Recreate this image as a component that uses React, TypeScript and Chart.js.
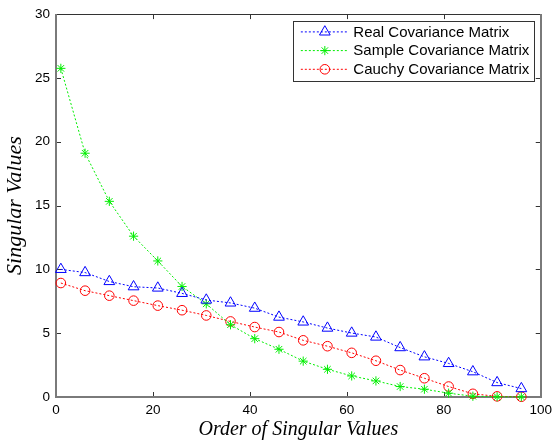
import React, { useEffect, useRef } from "react";
import { Chart, registerables } from "chart.js";

Chart.register(...registerables);

const xValues = [1, 6, 11, 16, 21, 26, 31, 36, 41, 46, 51, 56, 61, 66, 71, 76, 81, 86, 91, 96];
const realValues = [10.0, 9.75, 9.05, 8.64, 8.54, 8.12, 7.6, 7.37, 6.96, 6.26, 5.88, 5.4, 5.01, 4.7, 3.87, 3.15, 2.63, 1.98, 1.13, 0.66];
const sampleValues = [25.75, 19.1, 15.33, 12.6, 10.66, 8.66, 7.3, 5.66, 4.57, 3.74, 2.81, 2.17, 1.65, 1.26, 0.82, 0.61, 0.3, 0.06, 0.02, 0.01];
const cauchyValues = [8.93, 8.33, 7.94, 7.55, 7.16, 6.8, 6.39, 5.92, 5.48, 5.09, 4.44, 3.98, 3.46, 2.84, 2.11, 1.47, 0.82, 0.25, 0.05, 0.02];

const seriesLabels = ["Real Covariance Matrix", "Sample Covariance Matrix", "Cauchy Covariance Matrix"];
const seriesColors = ["#0000FF", "#00EE00", "#FF0000"];
const seriesStyles = ["triangle", "star", "circle"];
const seriesRadius = [6.2, 4.6, 4.8];

const xTitle = "Order of Singular Values";
const yTitle = "Singular Values";

const sansFont = "'Liberation Sans', Arial, sans-serif";
const serifFont = "'Liberation Serif', 'Times New Roman', serif";

function drawMarker(ctx: CanvasRenderingContext2D, style: string, x: number, y: number, r: number, color: string) {
  ctx.save();
  ctx.strokeStyle = color;
  ctx.lineWidth = 1;
  ctx.setLineDash([]);
  ctx.beginPath();
  if (style === "triangle") {
    for (let i = 0; i < 3; i++) {
      const a = (i * 2 * Math.PI) / 3;
      const px = x + Math.sin(a) * r;
      const py = y - Math.cos(a) * r;
      if (i === 0) ctx.moveTo(px, py);
      else ctx.lineTo(px, py);
    }
    ctx.closePath();
  } else if (style === "circle") {
    ctx.arc(x, y, r, 0, Math.PI * 2);
  } else {
    ctx.moveTo(x - r, y);
    ctx.lineTo(x + r, y);
    ctx.moveTo(x, y - r);
    ctx.lineTo(x, y + r);
    const d = r * Math.SQRT1_2;
    ctx.moveTo(x - d, y - d);
    ctx.lineTo(x + d, y + d);
    ctx.moveTo(x - d, y + d);
    ctx.lineTo(x + d, y - d);
  }
  ctx.stroke();
  ctx.restore();
}

const framePlugin = {
  id: "matlabFrame",
  beforeDatasetsDraw(chart: any) {
    const { ctx, chartArea } = chart;
    const { left, right, top, bottom } = chartArea;
    const xs = chart.scales.x;
    const ys = chart.scales.y;
    ctx.save();
    ctx.setLineDash([]);
    ctx.strokeStyle = "#333";
    ctx.lineWidth = 1;
    const tl = 5;
    xs.ticks.forEach((t: any) => {
      const px = Math.round(xs.getPixelForValue(t.value)) + 0.5;
      ctx.beginPath();
      ctx.moveTo(px, bottom);
      ctx.lineTo(px, bottom - tl);
      ctx.moveTo(px, top);
      ctx.lineTo(px, top + tl);
      ctx.stroke();
    });
    ys.ticks.forEach((t: any) => {
      const py = Math.round(ys.getPixelForValue(t.value)) + 0.5;
      ctx.beginPath();
      ctx.moveTo(left, py);
      ctx.lineTo(left + tl, py);
      ctx.moveTo(right, py);
      ctx.lineTo(right - tl, py);
      ctx.stroke();
    });
    ctx.strokeStyle = "#333";
    ctx.lineWidth = 1;
    ctx.beginPath();
    ctx.moveTo(left, Math.round(top) + 0.5);
    ctx.lineTo(right, Math.round(top) + 0.5);
    ctx.stroke();
    ctx.strokeStyle = "#7a7a7a";
    ctx.lineWidth = 2;
    ctx.beginPath();
    ctx.moveTo(Math.round(left), top);
    ctx.lineTo(Math.round(left), Math.round(bottom));
    ctx.lineTo(Math.round(right), Math.round(bottom));
    ctx.lineTo(Math.round(right), top);
    ctx.stroke();
    ctx.restore();
  },
  afterDatasetsDraw(chart: any) {
    const { ctx, chartArea } = chart;
    const { right, top } = chartArea;
    ctx.save();
    ctx.font = `15px ${sansFont}`;
    const labels = chart.data.datasets.map((d: any) => d.label);
    const textW = Math.max(...labels.map((l: string) => ctx.measureText(l).width));
    const rowH = 18.7;
    const boxRight = right - 7;
    const boxTop = top + 7;
    const boxW = 60 + textW + 5;
    const boxH = 59.5;
    const boxLeft = boxRight - boxW;
    ctx.fillStyle = "#fff";
    ctx.fillRect(boxLeft, boxTop, boxW, boxH);
    ctx.strokeStyle = "#333";
    ctx.lineWidth = 1;
    ctx.strokeRect(Math.round(boxLeft) + 0.5, Math.round(boxTop) + 0.5, Math.round(boxW), Math.round(boxH));
    chart.data.datasets.forEach((d: any, i: number) => {
      const cy = boxTop + 10.8 + i * rowH;
      ctx.strokeStyle = d.borderColor;
      ctx.lineWidth = 1;
      ctx.setLineDash([2, 2]);
      ctx.beginPath();
      ctx.moveTo(boxLeft + 8, cy);
      ctx.lineTo(boxLeft + 55, cy);
      ctx.stroke();
      ctx.setLineDash([]);
      drawMarker(ctx, d.pointStyle, boxLeft + 32, cy, d.pointRadius, d.borderColor);
      ctx.fillStyle = "#000";
      ctx.textBaseline = "middle";
      ctx.textAlign = "left";
      ctx.fillText(d.label, boxLeft + 60.5, cy + 0.5);
    });
    ctx.restore();
  },
};

export default function App() {
  const canvasRef = useRef<HTMLCanvasElement | null>(null);

  useEffect(() => {
    if (!canvasRef.current) return;
    const seriesValues = [realValues, sampleValues, cauchyValues];
    const chart = new Chart(canvasRef.current, {
      type: "line",
      data: {
        datasets: seriesValues.map((vals, i) => ({
          label: seriesLabels[i],
          data: xValues.map((x, j) => ({ x, y: vals[j] })),
          borderColor: seriesColors[i],
          backgroundColor: "rgba(0,0,0,0)",
          borderWidth: 1,
          borderDash: [2, 2],
          pointStyle: seriesStyles[i] as any,
          pointRadius: seriesRadius[i],
          pointBorderWidth: 1,
          pointBorderColor: seriesColors[i],
          pointBackgroundColor: "rgba(0,0,0,0)",
          tension: 0,
          fill: false,
          clip: false as any,
        })),
      },
      options: {
        animation: false,
        responsive: true,
        maintainAspectRatio: false,
        layout: { padding: { left: 0, top: 12, right: 14, bottom: 0 } },
        plugins: {
          legend: { display: false },
          tooltip: { enabled: false },
        },
        scales: {
          x: {
            type: "linear",
            min: 0,
            max: 100,
            ticks: {
              stepSize: 20,
              color: "#000",
              padding: 5,
              maxRotation: 0,
              font: { family: sansFont, size: 13.5 },
            },
            grid: { display: false, drawTicks: false },
            border: { display: false },
            title: {
              display: true,
              text: xTitle,
              color: "#000",
              font: { family: serifFont, size: 20, style: "italic" },
              padding: { top: 0, bottom: 3 },
            },
            afterFit(scale: any) {
              scale.height = 48;
            },
          },
          y: {
            type: "linear",
            min: 0,
            max: 30,
            ticks: {
              stepSize: 5,
              color: "#000",
              padding: 6,
              font: { family: sansFont, size: 13.5 },
            },
            grid: { display: false, drawTicks: false },
            border: { display: false },
            title: {
              display: true,
              text: yTitle,
              color: "#000",
              font: { family: serifFont, size: 22, style: "italic" },
              padding: { top: 2, bottom: 0 },
            },
            afterFit(scale: any) {
              scale.width = 56;
            },
          },
        },
      },
      plugins: [framePlugin],
    });
    return () => chart.destroy();
  }, []);

  return (
    <div style={{ position: "absolute", left: 0, top: 0, width: 557, height: 445, background: "#fff" }}>
      <canvas ref={canvasRef} />
    </div>
  );
}
